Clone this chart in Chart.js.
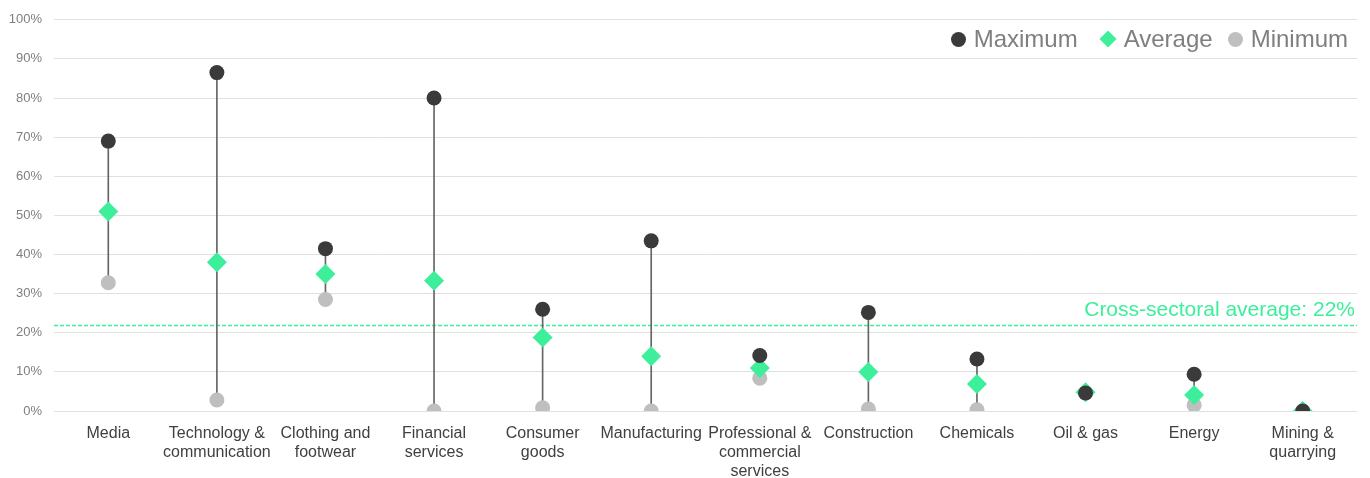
<!DOCTYPE html>
<html>
<head>
<meta charset="utf-8">
<script src="https://cdn.jsdelivr.net/npm/chart.js@4"></script>
<style>
    body { margin: 0; background: #fff; }
    #wrap { position: relative; width: 1370px; height: 478px; }
    #legend {
        position: absolute; top: 25px; right: 22px;
        display: flex; align-items: center;
        font-family: "Liberation Sans", Arial, sans-serif;
        font-size: 24px; color: #7f7f7f;
    }
    #legend .item { display: flex; align-items: center; }
    #legend .dot { width: 15px; height: 15px; border-radius: 50%; margin-right: 8px; }
    #legend .dia { width: 12px; height: 12px; transform: rotate(45deg); margin-right: 10px; }
</style>
</head>
<body>
<div id="wrap">
    <canvas id="chart"></canvas>
    <div id="legend"></div>
</div>
<script>
const sectors = [
    "Media",
    ["Technology &", "communication"],
    ["Clothing and", "footwear"],
    ["Financial", "services"],
    ["Consumer", "goods"],
    "Manufacturing",
    ["Professional &", "commercial", "services"],
    "Construction",
    "Chemicals",
    "Oil & gas",
    "Energy",
    ["Mining &", "quarrying"]
];
const maxVals = [69, 86.5, 41.5, 80, 26, 43.5, 14.2, 25.2, 13.3, 4.6, 9.4, 0];
const avgVals = [51, 38, 35, 33.3, 18.8, 14, 11, 10, 6.9, 4.8, 4.1, 0];
const minVals = [32.8, 2.8, 28.5, 0, 0.8, 0, 8.4, 0.5, 0.3, 4.6, 1.5, 0];
const crossAvg = 22;

const colMax = "#3a3a3a";
const colAvg = "#3def9b";
const colMin = "#bfbfbf";
const font = "'Liberation Sans', Arial, sans-serif";

// dashed cross-sectoral average line + label
const avgLine = {
    id: "avgLine",
    beforeDatasetsDraw(chart) {
        const { ctx, chartArea, scales } = chart;
        const y = Math.round(scales.y.getPixelForValue(crossAvg)) + 0.5;
        ctx.save();
        ctx.strokeStyle = colAvg;
        ctx.lineWidth = 1.5;
        ctx.setLineDash([4, 2]);
        ctx.beginPath();
        ctx.moveTo(chartArea.left, y);
        ctx.lineTo(chartArea.right, y);
        ctx.stroke();
        ctx.setLineDash([]);
        ctx.fillStyle = colAvg;
        ctx.font = "21px " + font;
        ctx.textAlign = "right";
        ctx.textBaseline = "bottom";
        ctx.fillText("Cross-sectoral average: " + crossAvg + "%", chartArea.right - 2, y - 5);
        ctx.restore();
    }
};

function points(label, data, color, style, radius) {
    return {
        type: "line",
        label,
        data,
        showLine: false,
        pointStyle: style,
        pointRadius: radius,
        pointHoverRadius: radius,
        pointBorderWidth: 0,
        backgroundColor: color,
        borderColor: color
    };
}

new Chart(document.getElementById("chart"), {
    type: "bar",
    data: {
        labels: sectors,
        datasets: [
            points("Maximum", maxVals, colMax, "circle", 7.5),
            points("Average", avgVals, colAvg, "rectRot", 10),
            points("Minimum", minVals, colMin, "circle", 7.5),
            {
                type: "bar",
                label: "range",
                data: minVals.map((v, i) => [v, maxVals[i]]),
                backgroundColor: "#666",
                barThickness: 1,
                borderWidth: 0
            }
        ]
    },
    options: {
        responsive: true,
        maintainAspectRatio: false,
        animation: false,
        layout: { padding: { top: 9, right: 13, left: 0, bottom: 0 } },
        plugins: {
            legend: { display: false },
            tooltip: { enabled: false }
        },
        scales: {
            x: {
                offset: true,
                afterFit(scale) { scale.height = 67; },
                grid: { display: false },
                border: { display: false },
                ticks: {
                    autoSkip: false,
                    maxRotation: 0,
                    padding: 5,
                    color: "#404040",
                    font: { family: font, size: 16, lineHeight: 1.2 }
                }
            },
            y: {
                min: 0,
                max: 100,
                afterFit(scale) { scale.width = 54; },
                grid: { color: "#e0e0e0", lineWidth: 1, drawTicks: false },
                border: { display: false },
                ticks: {
                    stepSize: 10,
                    padding: 12,
                    color: "#7f7f7f",
                    font: { family: font, size: 13 },
                    callback: v => v + "%"
                }
            }
        }
    },
    plugins: [avgLine]
});

// legend drawn as html over the plot
const legendItems = [
    { label: "Maximum", color: colMax, shape: "dot", gap: 0 },
    { label: "Average", color: colAvg, shape: "dia", gap: 24 },
    { label: "Minimum", color: colMin, shape: "dot", gap: 15 }
];
document.getElementById("legend").innerHTML = legendItems.map(it =>
    `<div class="item" style="margin-left:${it.gap}px"><span class="${it.shape}" style="background:${it.color}"></span>${it.label}</div>`
).join("");
</script>
</body>
</html>
